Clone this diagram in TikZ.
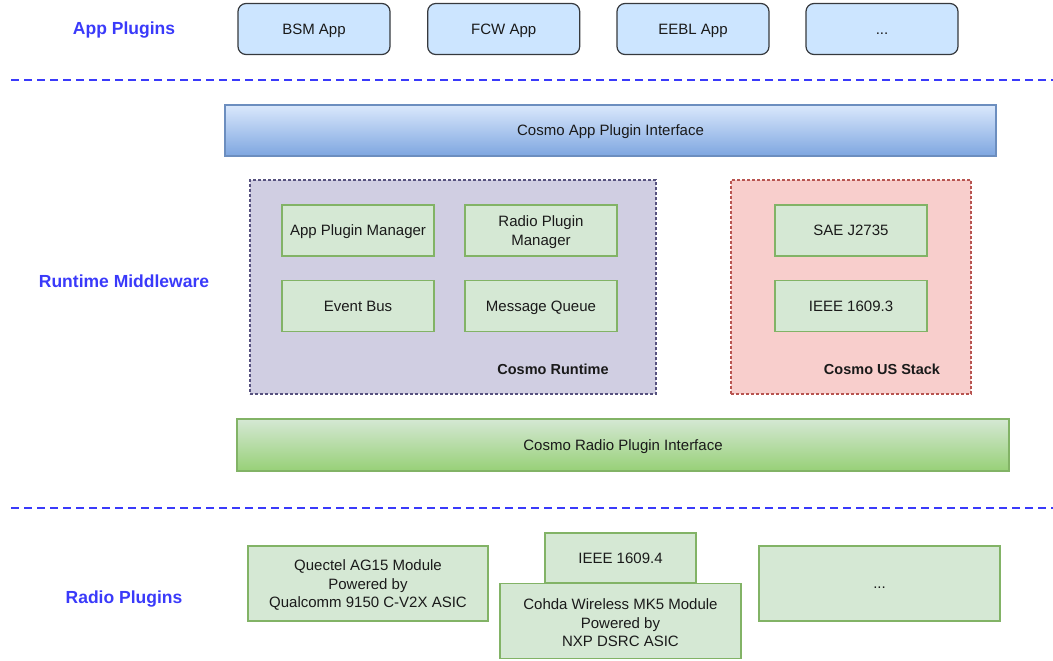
\documentclass[tikz,border=0pt]{standalone}
\usepackage{fontspec}
\setmainfont{Liberation Sans}
\definecolor{lblblue}{RGB}{58,58,250}
\definecolor{appfill}{HTML}{CCE5FF}
\definecolor{appdraw}{HTML}{36393D}
\definecolor{gfill}{HTML}{D5E8D4}
\definecolor{gdraw}{HTML}{82B366}
\definecolor{gdark}{HTML}{97D077}
\definecolor{bfill}{HTML}{DAE8FC}
\definecolor{bdark}{HTML}{7EA6E0}
\definecolor{bdraw}{HTML}{6C8EBF}
\definecolor{pfill}{HTML}{D0CEE2}
\definecolor{pdraw}{HTML}{56517E}
\definecolor{rfill}{HTML}{F8CECC}
\definecolor{rdraw}{HTML}{B85450}
\definecolor{txt}{HTML}{1A1A1A}
\tikzset{
  every node/.style={inner sep=0pt, outer sep=0pt, text=txt, font=\fontsize{15}{18.5}\selectfont},
  one/.style={text height=10.8pt, text depth=0pt},
  appbox/.style={one, draw=appdraw, fill=appfill, line width=1.2pt, rounded corners=8pt, minimum width=152pt, minimum height=51pt},
  gbox/.style={draw=gdraw, fill=gfill, line width=1.2pt, align=center},
  layerlabel/.style={text=lblblue, font=\fontsize{17.5}{20}\selectfont\bfseries, text height=12.6pt, text depth=0pt},
  grouplabel/.style={font=\fontsize{14.5}{17}\selectfont\bfseries, text height=10.5pt, text depth=0pt},
  container/.style={line width=1.2pt, dash pattern=on 3pt off 2pt},
  sepline/.style={draw=lblblue, line width=2.6pt, dash pattern=on 8pt off 5pt}
}
\newcommand{\topstrut}{\rule{0pt}{14.3pt}}
\begin{document}
\begin{tikzpicture}[x=1pt,y=-1pt]
\useasboundingbox (0,0) rectangle (1053,661);
% layer labels
\node[layerlabel] (lapp) at (124,28) {App Plugins};
\node[layerlabel] (lmid) at (124,281) {Runtime Middleware};
\node[layerlabel] (lrad) at (124,597) {Radio Plugins};
% app plugins
\node[appbox] (bsm) at (314,29) {BSM App};
\node[appbox] (fcw) at (503.7,29) {FCW App};
\node[appbox] (eebl) at (693,29) {EEBL App};
\node[appbox] (more1) at (882,29) {...};
% separators
\coordinate (s1a) at (11,80); \coordinate (s1b) at (1053,80);
\coordinate (s2a) at (11,508); \coordinate (s2b) at (1053,508);
\draw[sepline] (s1a) -- (s1b);
\draw[sepline] (s2a) -- (s2b);
% app plugin interface
\node[one, draw=bdraw, line width=1.2pt, top color=bfill, bottom color=bdark, minimum width=771pt, minimum height=51pt] (api) at (610.5,130.5) {Cosmo App Plugin Interface};
% runtime container
\node[container, draw=pdraw, fill=pfill, minimum width=406pt, minimum height=214pt] (rt) at (453,287) {};
\node[gbox, one, minimum width=152pt, minimum height=51pt] (apm) at (358,230.5) {App Plugin Manager};
\node[gbox, minimum width=152pt, minimum height=51pt] (rpm) at (541,230.5) {\topstrut Radio Plugin\\Manager};
\node[gbox, one, minimum width=152pt, minimum height=51pt] (eb) at (358,306) {Event Bus};
\node[gbox, one, minimum width=152pt, minimum height=51pt] (mq) at (541,306) {Message Queue};
\node[grouplabel] (rtl) at (553,369) {Cosmo Runtime};
% US stack container
\node[container, draw=rdraw, fill=rfill, minimum width=240pt, minimum height=214pt] (us) at (851,287) {};
\node[gbox, one, minimum width=152pt, minimum height=51pt] (sae) at (851,230.5) {SAE J2735};
\node[gbox, one, minimum width=152pt, minimum height=51pt] (i3) at (851,306) {IEEE 1609.3};
\node[grouplabel] (usl) at (882,369) {Cosmo US Stack};
% radio plugin interface
\node[one, draw=gdraw, line width=1.2pt, top color=gfill, bottom color=gdark, minimum width=772pt, minimum height=52pt] (rpi) at (623,445) {Cosmo Radio Plugin Interface};
% radio plugins
\node[gbox, minimum width=240pt, minimum height=75pt] (quec) at (368,583.5) {\topstrut Quectel AG15 Module\\Powered by\\Qualcomm 9150 C-V2X ASIC};
\node[gbox, one, minimum width=151pt, minimum height=50pt] (i4) at (620.5,558) {IEEE 1609.4};
\node[gbox, minimum width=241pt, minimum height=75.5pt] (cohda) at (620.5,621) {\topstrut Cohda Wireless MK5 Module\\Powered by\\NXP DSRC ASIC};
\node[gbox, one, minimum width=241pt, minimum height=75pt] (more2) at (879.5,583.5) {...};
\end{tikzpicture}
\end{document}
